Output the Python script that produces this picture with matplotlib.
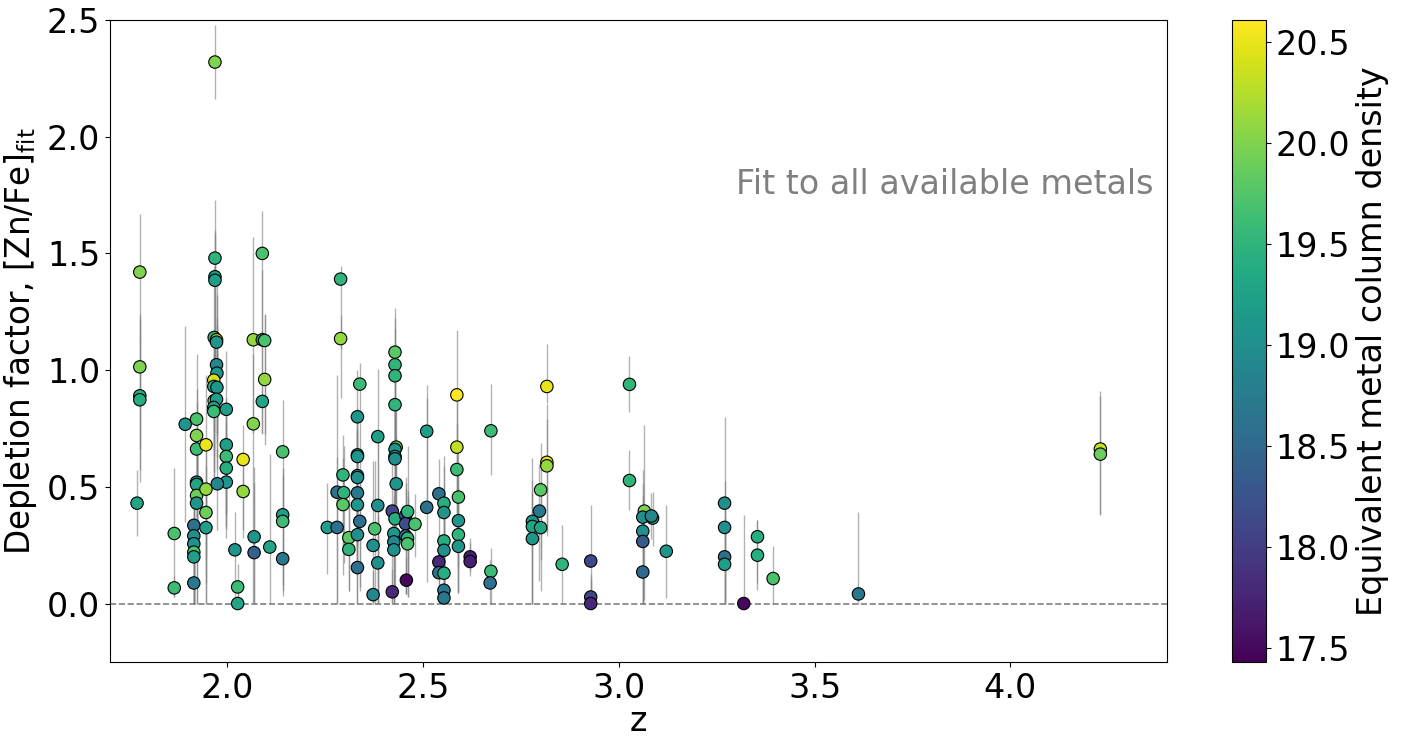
import matplotlib
matplotlib.use("Agg")
import matplotlib.pyplot as plt
import numpy as np

plt.rcParams['font.family'] = 'DejaVu Sans'

# redshift, depletion factor [Zn/Fe]_fit, lower / upper errors, log N (equivalent metal column density)
z = [
    1.776, 1.776, 1.776, 1.776, 1.769, 1.864, 1.864, 1.892, 1.921, 1.921,
    1.921, 1.921, 1.921, 1.921, 1.921, 1.914, 1.914, 1.914, 1.914, 1.914,
    1.914, 1.945, 1.945, 1.945, 1.945, 1.968, 1.968, 1.968, 1.968, 1.966,
    1.972, 1.972, 1.972, 1.973, 1.965, 1.965, 1.973, 1.966, 1.972, 1.965,
    1.965, 1.997, 1.997, 1.997, 1.997, 1.997, 1.974, 2.019, 2.026, 2.026,
    2.040, 2.040, 2.066, 2.066, 2.068, 2.068, 2.089, 2.089, 2.095, 2.095,
    2.089, 2.108, 2.141, 2.141, 2.141, 2.141,
    2.289, 2.289, 2.338, 2.332, 2.384, 2.428, 2.428, 2.428, 2.428, 2.431,
    2.428, 2.428, 2.428, 2.431, 2.509, 2.586, 2.586, 2.586, 2.590, 2.590,
    2.590, 2.590, 2.620, 2.620, 2.673, 2.673, 2.671, 2.295, 2.280, 2.297,
    2.295, 2.255, 2.280, 2.310, 2.310, 2.332, 2.332, 2.332, 2.332, 2.332,
    2.332, 2.338, 2.332, 2.332, 2.384, 2.376, 2.372, 2.384, 2.372, 2.421,
    2.428, 2.425, 2.425, 2.425, 2.421, 2.455, 2.455, 2.460, 2.479, 2.455,
    2.460, 2.460, 2.457, 2.509, 2.540, 2.553, 2.553, 2.553, 2.553, 2.540,
    2.540, 2.553, 2.553, 2.553,
    2.816, 2.816, 2.816, 2.800, 2.797, 2.779, 2.779, 2.800, 2.779, 2.855,
    2.928, 2.928, 2.928, 3.027, 3.027, 3.065, 3.061, 3.086, 3.083, 3.061,
    3.061, 3.061, 3.121,
    3.270, 3.270, 3.270, 3.270, 3.319, 3.354, 3.354, 3.394, 3.612, 4.230,
    4.230,
]
dep = [
    1.42, 1.014, 0.89, 0.873, 0.43, 0.30, 0.067, 0.768, 0.79, 0.72,
    0.662, 0.52, 0.51, 0.463, 0.43, 0.335, 0.29, 0.256, 0.22, 0.20,
    0.088, 0.68, 0.49, 0.39, 0.325, 2.32, 1.48, 1.40, 1.385, 1.14,
    1.13, 1.12, 1.023, 0.987, 0.957, 0.93, 0.926, 0.869, 0.875, 0.84,
    0.823, 0.832, 0.68, 0.63, 0.58, 0.52, 0.513, 0.23, 0.071, 0.0,
    0.617, 0.48, 1.13, 0.77, 0.286, 0.218, 1.50, 1.13, 1.127, 0.96,
    0.866, 0.242, 0.65, 0.38, 0.352, 0.192,
    1.39, 1.135, 0.94, 0.80, 0.715, 1.077, 1.023, 0.976, 0.852, 0.67,
    0.66, 0.63, 0.62, 0.513, 0.738, 0.894, 0.67, 0.574, 0.456, 0.355,
    0.295, 0.245, 0.20, 0.18, 0.74, 0.138, 0.088, 0.551, 0.477, 0.475,
    0.424, 0.326, 0.326, 0.282, 0.232, 0.637, 0.63, 0.548, 0.54, 0.474,
    0.423, 0.352, 0.295, 0.154, 0.42, 0.32, 0.249, 0.174, 0.038, 0.396,
    0.363, 0.30, 0.264, 0.23, 0.05, 0.377, 0.342, 0.394, 0.34, 0.29,
    0.28, 0.256, 0.10, 0.412, 0.47, 0.43, 0.39, 0.268, 0.228, 0.178,
    0.132, 0.13, 0.057, 0.024,
    0.93, 0.605, 0.59, 0.487, 0.396, 0.352, 0.33, 0.325, 0.278, 0.168,
    0.182, 0.028, 0.0, 0.939, 0.527, 0.396, 0.37, 0.366, 0.375, 0.31,
    0.266, 0.135, 0.224,
    0.43, 0.326, 0.20, 0.168, 0.0, 0.286, 0.207, 0.107, 0.041, 0.662,
    0.64,
]
err_lo = [
    0.30, 0.35, 0.37, 0.30, 0.14, 0.27, 0.04, 0.42, 0.25, 0.30,
    0.40, 0.52, 0.30, 0.20, 0.43, 0.335, 0.29, 0.256, 0.22, 0.20,
    0.088, 0.68, 0.30, 0.30, 0.325, 0.16, 0.50, 0.40, 0.40, 0.40,
    0.40, 0.30, 0.30, 0.30, 0.30, 0.30, 0.30, 0.30, 0.30, 0.30,
    0.30, 0.45, 0.30, 0.30, 0.30, 0.20, 0.20, 0.23, 0.071, 0.0,
    0.30, 0.20, 0.40, 0.77, 0.286, 0.218, 0.40, 0.40, 0.40, 0.28,
    0.14, 0.242, 0.30, 0.30, 0.30, 0.16,
    0.30, 0.255, 0.87, 0.30, 0.715, 0.50, 0.40, 0.40, 0.40, 0.30,
    0.30, 0.30, 0.30, 0.30, 0.30, 0.50, 0.30, 0.30, 0.30, 0.30,
    0.25, 0.20, 0.06, 0.06, 0.19, 0.138, 0.088, 0.30, 0.477, 0.30,
    0.30, 0.20, 0.326, 0.23, 0.18, 0.30, 0.30, 0.30, 0.30, 0.30,
    0.30, 0.30, 0.295, 0.154, 0.42, 0.32, 0.249, 0.174, 0.038, 0.396,
    0.30, 0.30, 0.264, 0.23, 0.05, 0.15, 0.30, 0.30, 0.14, 0.25,
    0.25, 0.23, 0.06, 0.32, 0.30, 0.30, 0.30, 0.268, 0.228, 0.10,
    0.05, 0.13, 0.057, 0.024,
    0.07, 0.30, 0.30, 0.30, 0.30, 0.352, 0.33, 0.27, 0.278, 0.168,
    0.182, 0.028, 0.0, 0.12, 0.127, 0.38, 0.37, 0.12, 0.10, 0.31,
    0.266, 0.135, 0.20,
    0.43, 0.326, 0.20, 0.168, 0.0, 0.20, 0.15, 0.107, 0.041, 0.28,
    0.26,
]
err_hi = [
    0.25, 0.20, 0.35, 0.25, 0.14, 0.28, 0.05, 0.42, 0.28, 0.20,
    0.20, 0.20, 0.20, 0.20, 0.20, 0.20, 0.20, 0.20, 0.20, 0.15,
    0.10, 0.30, 0.20, 0.20, 0.20, 0.16, 0.25, 0.20, 0.20, 0.30,
    0.30, 0.20, 0.20, 0.20, 0.20, 0.20, 0.20, 0.20, 0.20, 0.20,
    0.20, 0.25, 0.20, 0.20, 0.20, 0.20, 0.15, 0.16, 0.10, 0.10,
    0.15, 0.15, 0.44, 0.30, 0.30, 0.30, 0.18, 0.30, 0.11, 0.28,
    0.30, 0.40, 0.22, 0.20, 0.20, 0.20,
    0.056, 0.10, 0.09, 0.20, 0.29, 0.19, 0.20, 0.20, 0.20, 0.20,
    0.20, 0.20, 0.20, 0.20, 0.20, 0.28, 0.20, 0.20, 0.20, 0.20,
    0.20, 0.20, 0.08, 0.08, 0.20, 0.10, 0.10, 0.17, 0.50, 0.20,
    0.20, 0.19, 0.30, 0.20, 0.20, 0.20, 0.20, 0.20, 0.20, 0.20,
    0.20, 0.20, 0.20, 0.20, 0.30, 0.29, 0.36, 0.20, 0.10, 0.20,
    0.20, 0.20, 0.20, 0.20, 0.10, 0.14, 0.20, 0.28, 0.13, 0.20,
    0.20, 0.20, 0.10, 0.47, 0.15, 0.20, 0.20, 0.20, 0.20, 0.12,
    0.10, 0.10, 0.10, 0.10,
    0.18, 0.25, 0.20, 0.20, 0.20, 0.27, 0.20, 0.20, 0.20, 0.17,
    0.24, 0.10, 0.10, 0.12, 0.13, 0.37, 0.20, 0.11, 0.10, 0.20,
    0.20, 0.20, 0.20,
    0.37, 0.20, 0.20, 0.20, 0.38, 0.07, 0.15, 0.14, 0.35, 0.25,
    0.25,
]
logN = [
    20.0, 20.0, 19.4, 19.4, 19.3, 19.7, 19.6, 19.1, 19.7, 20.0,
    19.6, 19.1, 19.3, 19.9, 19.1, 18.6, 19.0, 19.0, 19.7, 19.2,
    18.7, 20.5, 20.1, 19.9, 19.2, 20.0, 19.5, 19.2, 19.2, 19.4,
    20.4, 19.1, 18.9, 19.1, 20.4, 19.4, 19.1, 20.0, 19.2, 19.2,
    19.6, 19.2, 19.2, 19.6, 19.4, 19.1, 18.9, 19.1, 19.6, 19.3,
    20.5, 20.1, 20.1, 20.0, 19.1, 18.4, 19.7, 19.3, 19.7, 20.1,
    19.3, 19.3, 19.7, 19.2, 19.6, 18.7,
    19.5, 20.1, 19.6, 19.1, 19.2, 19.8, 19.5, 19.5, 19.5, 19.8,
    19.1, 19.0, 19.0, 19.1, 19.2, 20.6, 20.3, 19.6, 19.7, 19.1,
    19.5, 19.1, 17.7, 17.7, 19.6, 19.6, 18.6, 19.5, 18.6, 19.5,
    19.8, 19.2, 18.6, 19.8, 19.5, 19.5, 19.1, 19.1, 19.0, 18.7,
    19.1, 18.6, 19.0, 18.6, 19.0, 19.7, 19.0, 19.0, 18.9, 18.1,
    19.4, 19.1, 18.9, 19.0, 17.8, 18.1, 18.2, 19.5, 19.7, 18.4,
    19.5, 19.7, 17.5, 18.6, 18.6, 19.4, 19.1, 19.4, 19.0, 17.8,
    18.7, 19.4, 18.7, 18.7,
    20.5, 20.5, 20.1, 19.8, 18.7, 19.1, 19.3, 19.3, 19.1, 19.5,
    18.1, 18.1, 17.8, 19.5, 19.5, 20.0, 19.0, 19.2, 18.9, 19.0,
    18.3, 18.5, 19.1,
    19.0, 19.0, 18.6, 19.2, 17.5, 19.4, 19.4, 19.7, 18.7, 20.3,
    19.9,
]

fig = plt.figure(figsize=(14.11, 7.42), dpi=100)
ax = fig.add_axes([0.078, 0.108, 0.749, 0.865])

ax.errorbar(z, dep, yerr=[err_lo, err_hi], fmt='none', ecolor='gray',
            elinewidth=1, alpha=0.6, zorder=1)
sc = ax.scatter(z, dep, c=logN, cmap='viridis', vmin=17.43, vmax=20.61,
                s=80, edgecolors='black', linewidths=0.8, zorder=3)
ax.axhline(0, color='gray', linestyle='--', linewidth=1.2, zorder=0)

ax.set_xlim(1.7, 4.4)
ax.set_ylim(-0.25, 2.5)
ax.set_xticks([2.0, 2.5, 3.0, 3.5, 4.0])
ax.set_yticks([0.0, 0.5, 1.0, 1.5, 2.0, 2.5])
ax.tick_params(labelsize=24)
ax.set_xlabel('z', fontsize=24, labelpad=0)
ax.set_ylabel(r'Depletion factor, [Zn/Fe]$_{\rm fit}$', fontsize=23.5, labelpad=6)
ax.text(0.987, 0.743, 'Fit to all available metals', transform=ax.transAxes,
        ha='right', va='center', fontsize=24, color='gray')

cax = fig.add_axes([0.873, 0.108, 0.024, 0.865])
cb = fig.colorbar(sc, cax=cax)
cb.set_ticks([17.5, 18.0, 18.5, 19.0, 19.5, 20.0, 20.5])
cb.ax.tick_params(labelsize=24)
cb.set_label('Equivalent metal column density', fontsize=24)

fig.savefig('out.png', dpi=100)
